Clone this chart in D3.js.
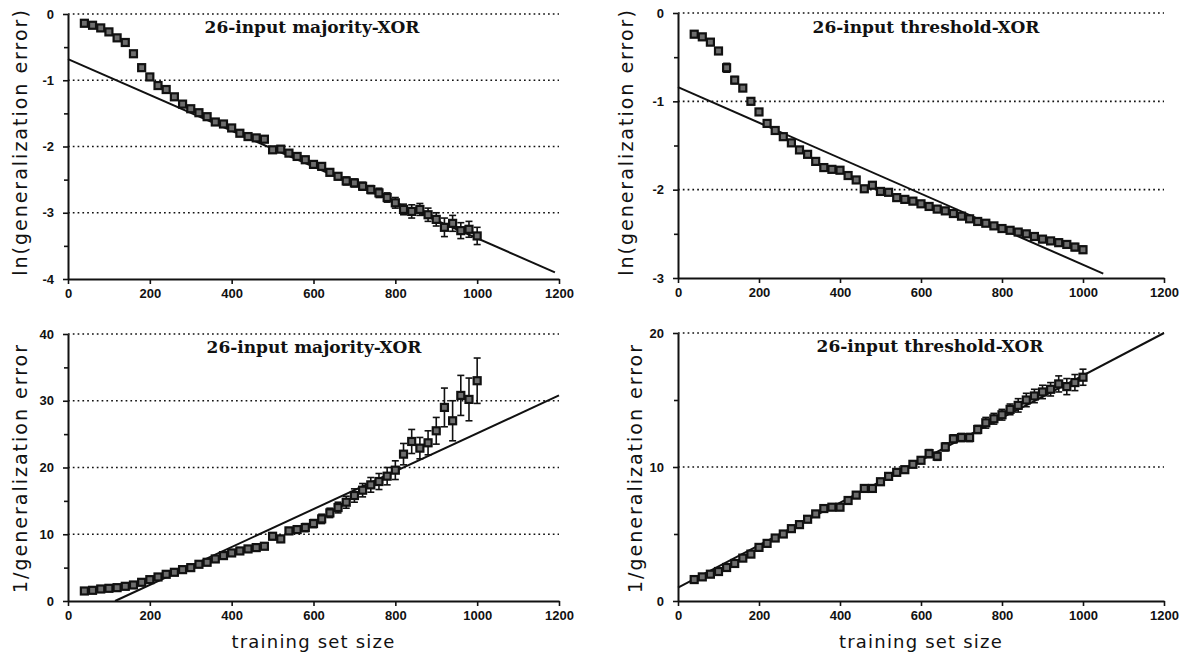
<!DOCTYPE html>
<html>
<head>
<meta charset="utf-8">
<script src="https://cdn.jsdelivr.net/npm/d3@7"></script>
<style>
  body { margin: 0; background: #fff; }
  svg { display: block; }
</style>
</head>
<body>
<svg id="chart" width="1187" height="657"></svg>
<script>
// Training set sizes at which the generalization error was measured
const trainingSizes = [40, 60, 80, 100, 120, 140, 160, 180, 200, 220, 240, 260, 280, 300, 320, 340, 360, 380, 400, 420,
  440, 460, 480, 500, 520, 540, 560, 580, 600, 620, 640, 660, 680, 700, 720, 740, 760, 780, 800, 820,
  840, 860, 880, 900, 920, 940, 960, 980, 1000];

// ln(generalization error), 26-input majority-XOR
const lnMajority = [-0.14, -0.17, -0.21, -0.27, -0.36, -0.43, -0.60, -0.81, -0.95, -1.08, -1.14, -1.25, -1.36, -1.43, -1.49, -1.55, -1.63, -1.66, -1.72, -1.80,
  -1.85, -1.87, -1.89, -2.05, -2.04, -2.10, -2.15, -2.20, -2.27, -2.30, -2.39, -2.45, -2.52, -2.55, -2.60, -2.65, -2.70, -2.77, -2.85, -2.95,
  -2.98, -2.95, -3.03, -3.10, -3.22, -3.16, -3.27, -3.25, -3.35];
const lnMajorityErr = [0.02, 0.02, 0.02, 0.02, 0.03, 0.03, 0.04, 0.03, 0.03, 0.03, 0.03, 0.03, 0.03, 0.03, 0.03, 0.03, 0.03, 0.03, 0.03, 0.03,
  0.03, 0.03, 0.04, 0.04, 0.04, 0.04, 0.04, 0.05, 0.05, 0.05, 0.05, 0.05, 0.06, 0.06, 0.06, 0.06, 0.07, 0.07, 0.08, 0.08,
  0.10, 0.09, 0.10, 0.10, 0.14, 0.12, 0.12, 0.12, 0.13];

// ln(generalization error), 26-input threshold-XOR
const lnThreshold = [-0.24, -0.27, -0.33, -0.43, -0.62, -0.76, -0.85, -1.00, -1.12, -1.25, -1.33, -1.40, -1.47, -1.55, -1.60, -1.68, -1.75, -1.77, -1.78, -1.84,
  -1.89, -1.99, -1.95, -2.02, -2.03, -2.09, -2.11, -2.13, -2.16, -2.19, -2.22, -2.24, -2.27, -2.30, -2.33, -2.36, -2.38, -2.41, -2.44, -2.46,
  -2.48, -2.50, -2.53, -2.56, -2.58, -2.60, -2.62, -2.65, -2.68];
const lnThresholdErr = [0.02, 0.02, 0.02, 0.03, 0.05, 0.04, 0.03, 0.03, 0.03, 0.02, 0.02, 0.02, 0.02, 0.02, 0.02, 0.02, 0.02, 0.02, 0.02, 0.02,
  0.02, 0.03, 0.02, 0.02, 0.02, 0.02, 0.02, 0.02, 0.02, 0.02, 0.02, 0.02, 0.02, 0.02, 0.02, 0.02, 0.02, 0.02, 0.03, 0.03,
  0.03, 0.03, 0.03, 0.03, 0.03, 0.04, 0.04, 0.04, 0.04];

// 1 / generalization error, 26-input majority-XOR
const invMajority = [1.5, 1.6, 1.8, 1.9, 2.0, 2.2, 2.4, 2.8, 3.2, 3.6, 4.0, 4.3, 4.7, 5.0, 5.5, 5.8, 6.3, 6.8, 7.2, 7.5,
  7.8, 8.0, 8.2, 9.7, 9.3, 10.5, 10.7, 11.0, 11.6, 12.3, 13.2, 14.0, 14.8, 15.8, 16.6, 17.4, 17.9, 18.7, 19.6, 22.0,
  23.9, 22.9, 23.7, 25.5, 29.0, 27.0, 30.8, 30.2, 33.0];
const invMajorityErr = [0.2, 0.2, 0.2, 0.2, 0.2, 0.2, 0.2, 0.2, 0.3, 0.3, 0.3, 0.3, 0.3, 0.3, 0.3, 0.3, 0.3, 0.3, 0.4, 0.4,
  0.4, 0.4, 0.4, 0.5, 0.5, 0.5, 0.5, 0.6, 0.6, 0.7, 0.7, 0.8, 0.9, 1.0, 1.0, 1.1, 1.2, 1.3, 1.4, 1.6,
  1.8, 1.6, 1.8, 2.0, 2.9, 3.0, 3.0, 3.2, 3.4];

// 1 / generalization error, 26-input threshold-XOR
const invThreshold = [1.6, 1.8, 2.0, 2.2, 2.5, 2.8, 3.2, 3.5, 4.0, 4.3, 4.7, 5.0, 5.4, 5.7, 6.1, 6.5, 6.9, 7.0, 7.0, 7.5,
  7.9, 8.4, 8.4, 8.9, 9.3, 9.6, 9.8, 10.2, 10.5, 11.0, 10.8, 11.5, 12.1, 12.2, 12.2, 12.8, 13.3, 13.6, 13.9, 14.3,
  14.6, 15.0, 15.3, 15.6, 15.8, 16.2, 16.0, 16.3, 16.7];
const invThresholdErr = [0.1, 0.1, 0.1, 0.1, 0.1, 0.1, 0.1, 0.1, 0.1, 0.1, 0.1, 0.1, 0.1, 0.1, 0.1, 0.1, 0.1, 0.1, 0.1, 0.1,
  0.1, 0.2, 0.2, 0.2, 0.2, 0.2, 0.2, 0.2, 0.2, 0.3, 0.3, 0.3, 0.3, 0.3, 0.3, 0.3, 0.4, 0.4, 0.4, 0.4,
  0.5, 0.5, 0.5, 0.5, 0.5, 0.6, 0.6, 0.6, 0.6];

// Fitted straight lines, as [training set size, value] end points
const fitLnMajority = [[0, -0.68], [1190, -3.90]];
const fitLnThreshold = [[0, -0.84], [1050, -2.95]];
const fitInvMajority = [[115, 0], [1200, 30.8]];
const fitInvThreshold = [[0, 1.0], [1200, 20.0]];

// Axis ticks
const xTickValues = [0, 200, 400, 600, 800, 1000, 1200];
const lnMajorityTicks = [0, -1, -2, -3, -4];
const lnThresholdTicks = [0, -1, -2, -3];
const invMajorityTicks = [0, 10, 20, 30, 40];
const invThresholdTicks = [0, 10, 20];

const titles = ["26-input majority-XOR", "26-input threshold-XOR"];
const yLabels = ["ln(generalization error)", "1/generalization error"];
const xLabel = "training set size";

// Panel layout
const panels = [
  { x: [68, 559], y: [279, 14], domain: [-4, 0], ticks: lnMajorityTicks, minorStep: 0.5,
    values: lnMajority, errors: lnMajorityErr, fit: fitLnMajority, title: titles[0], titleX: 312, titleY: 33,
    yLabel: yLabels[0], labelX: 27, labelY: 142, xLabel: false },
  { x: [678, 1164], y: [278, 13], domain: [-3, 0], ticks: lnThresholdTicks, minorStep: 0.5,
    values: lnThreshold, errors: lnThresholdErr, fit: fitLnThreshold, title: titles[1], titleX: 926, titleY: 33,
    yLabel: yLabels[0], labelX: 633, labelY: 142, xLabel: false },
  { x: [68, 559], y: [601, 334], domain: [0, 40], ticks: invMajorityTicks, minorStep: 5,
    values: invMajority, errors: invMajorityErr, fit: fitInvMajority, title: titles[0], titleX: 314, titleY: 353,
    yLabel: yLabels[1], labelX: 27, labelY: 468, xLabel: true },
  { x: [678, 1164], y: [601, 333], domain: [0, 20], ticks: invThresholdTicks, minorStep: 5,
    values: invThreshold, errors: invThresholdErr, fit: fitInvThreshold, title: titles[1], titleX: 930, titleY: 352,
    yLabel: yLabels[1], labelX: 642, labelY: 468, xLabel: true }
];

const svg = d3.select("#chart");
svg.append("rect").attr("width", 1187).attr("height", 657).attr("fill", "#fff");

panels.forEach(p => {
  const g = svg.append("g");
  const x = d3.scaleLinear().domain([0, 1200]).range(p.x);
  const y = d3.scaleLinear().domain(p.domain).range(p.y);

  // dotted reference lines at each labelled value above the x axis
  g.selectAll("line.grid")
    .data(p.ticks.filter(t => t !== p.domain[0]))
    .join("line")
    .attr("class", "grid")
    .attr("x1", x(0)).attr("x2", x(1200))
    .attr("y1", d => y(d)).attr("y2", d => y(d))
    .attr("stroke", "#111").attr("stroke-width", 1.7)
    .attr("stroke-dasharray", "1.7,3.1");

  // x axis
  const xAxis = d3.axisBottom(x).tickValues(xTickValues).tickSize(5).tickSizeOuter(0)
    .tickPadding(5).tickFormat(d => String(d));
  const gx = g.append("g").attr("transform", `translate(0,${p.y[0]})`).call(xAxis);

  // y axis with minor ticks
  const minor = d3.range(p.domain[0], p.domain[1] + 1e-9, p.minorStep).filter(v => !p.ticks.includes(v));
  g.append("g").attr("transform", `translate(${p.x[0]},0)`)
    .call(d3.axisLeft(y).tickValues(minor).tickSize(4).tickSizeOuter(0).tickFormat(""))
    .call(a => a.select(".domain").remove());
  const gy = g.append("g").attr("transform", `translate(${p.x[0]},0)`)
    .call(d3.axisLeft(y).tickValues(p.ticks).tickSize(5).tickSizeOuter(0).tickPadding(9)
      .tickFormat(d => String(d)));

  [gx, gy].forEach(a => {
    a.select(".domain").attr("stroke", "#111").attr("stroke-width", 2);
    a.selectAll(".tick text")
      .attr("fill", "#111")
      .style("font-family", "'Liberation Sans', Arial, sans-serif")
      .style("font-weight", "bold")
      .style("font-size", "13px");
  });
  g.selectAll(".tick line").attr("stroke", "#111").attr("stroke-width", 1.6);

  // fitted line
  g.append("line")
    .attr("x1", x(p.fit[0][0])).attr("y1", y(p.fit[0][1]))
    .attr("x2", x(p.fit[1][0])).attr("y2", y(p.fit[1][1]))
    .attr("stroke", "#111").attr("stroke-width", 2);

  const pts = trainingSizes.map((n, i) => ({ n, v: p.values[i], e: p.errors[i] }));

  // error bars
  const eb = g.selectAll("g.eb").data(pts).join("g").attr("class", "eb")
    .attr("stroke", "#111").attr("stroke-width", 1.6);
  eb.append("line")
    .attr("x1", d => x(d.n)).attr("x2", d => x(d.n))
    .attr("y1", d => y(d.v - d.e)).attr("y2", d => y(d.v + d.e));
  eb.append("line")
    .attr("x1", d => x(d.n) - 3.5).attr("x2", d => x(d.n) + 3.5)
    .attr("y1", d => y(d.v - d.e)).attr("y2", d => y(d.v - d.e));
  eb.append("line")
    .attr("x1", d => x(d.n) - 3.5).attr("x2", d => x(d.n) + 3.5)
    .attr("y1", d => y(d.v + d.e)).attr("y2", d => y(d.v + d.e));

  // square markers
  g.selectAll("rect.pt").data(pts).join("rect").attr("class", "pt")
    .attr("x", d => x(d.n) - 3.5).attr("y", d => y(d.v) - 3.5)
    .attr("width", 7).attr("height", 7)
    .attr("fill", "#6e6e6e").attr("stroke", "#111").attr("stroke-width", 2.2);

  // panel title
  g.append("text")
    .attr("x", p.titleX).attr("y", p.titleY)
    .attr("text-anchor", "middle")
    .style("font-family", "'DejaVu Serif', 'Liberation Serif', serif")
    .style("font-weight", "bold")
    .style("font-size", "17px")
    .attr("fill", "#111")
    .text(p.title);

  // y axis label
  g.append("text")
    .attr("transform", `translate(${p.labelX},${p.labelY}) rotate(-90)`)
    .attr("text-anchor", "middle")
    .style("font-family", "'DejaVu Sans', sans-serif")
    .style("font-size", "19px")
    .style("letter-spacing", "2px")
    .attr("fill", "#111")
    .text(p.yLabel);

  if (p.xLabel) {
    g.append("text")
      .attr("x", (p.x[0] + p.x[1]) / 2).attr("y", 648)
      .attr("text-anchor", "middle")
      .style("font-family", "'DejaVu Sans', sans-serif")
      .style("font-size", "18px")
      .style("letter-spacing", "1.2px")
      .attr("fill", "#111")
      .text(xLabel);
  }
});
</script>
